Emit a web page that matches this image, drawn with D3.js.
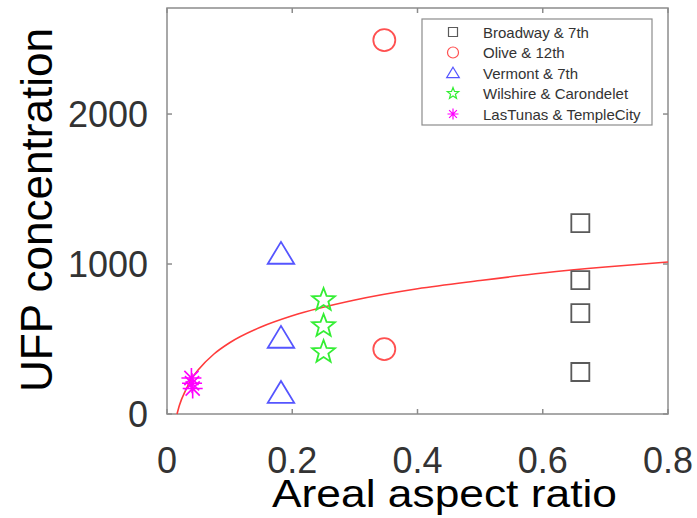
<!DOCTYPE html>
<html>
<head>
<meta charset="utf-8">
<script src="https://cdn.jsdelivr.net/npm/d3@7"></script>
<style>
  body { margin: 0; background: #fff; }
  svg { display: block; font-family: "Liberation Sans", Arial, sans-serif; }
</style>
</head>
<body>
<div id="chart"></div>
<script>
// Data
const broadwayX = [0.66, 0.66, 0.66, 0.66];
const broadwayY = [1273, 893, 673, 280];
const oliveX = [0.347, 0.347];
const oliveY = [2493, 433];
const vermontX = [0.182, 0.182, 0.182];
const vermontY = [1067, 507, 140];
const wilshireX = [0.25, 0.25, 0.25];
const wilshireY = [760, 587, 413];
const lastunasX = [0.039, 0.040, 0.041];
const lastunasY = [240, 205, 170];

// fitted curve, points
const fitX = [0.016, 0.02, 0.03, 0.04, 0.05, 0.075, 0.1, 0.15, 0.2, 0.3, 0.4, 0.5, 0.6, 0.7, 0.8];
const fitY = [0, 60, 160, 240, 295, 400, 475, 580, 655, 760, 835, 890, 940, 980, 1013];

const xTicks = [0, 0.2, 0.4, 0.6, 0.8];
const yTicks = [0, 1000, 2000];

const series = [
  { name: "Broadway & 7th", xs: broadwayX, ys: broadwayY, shape: "square", color: "#5a5a5a" },
  { name: "Olive & 12th", xs: oliveX, ys: oliveY, shape: "circle", color: "#ff5050" },
  { name: "Vermont & 7th", xs: vermontX, ys: vermontY, shape: "triangle", color: "#5555ff" },
  { name: "Wilshire & Carondelet", xs: wilshireX, ys: wilshireY, shape: "star", color: "#33ee33" },
  { name: "LasTunas & TempleCity", xs: lastunasX, ys: lastunasY, shape: "asterisk", color: "#ff00ff" }
];

const W = 697, H = 518;
const box = { left: 167, right: 668, top: 8, bottom: 414 };

const x = d3.scaleLinear().domain([0, 0.8]).range([box.left, box.right]);
const y = d3.scaleLinear().domain([0, 2707]).range([box.bottom, box.top]);

const svg = d3.select("#chart").append("svg")
  .attr("width", W).attr("height", H);

// marker shapes, r = half size
function markerPath(shape, r) {
  const p = d3.path();
  if (shape === "square") {
    p.rect(-r, -r, 2 * r, 2 * r);
  } else if (shape === "circle") {
    p.arc(0, 0, r, 0, 2 * Math.PI);
  } else if (shape === "triangle") {
    p.moveTo(0, -r * 1.05);
    p.lineTo(r * 1.15, r * 0.85);
    p.lineTo(-r * 1.15, r * 0.85);
    p.closePath();
  } else if (shape === "star") {
    const inner = r * 0.42;
    for (let i = 0; i < 10; i++) {
      const a = -Math.PI / 2 + i * Math.PI / 5;
      const rr = i % 2 === 0 ? r : inner;
      if (i === 0) p.moveTo(rr * Math.cos(a), rr * Math.sin(a));
      else p.lineTo(rr * Math.cos(a), rr * Math.sin(a));
    }
    p.closePath();
  } else if (shape === "asterisk") {
    for (let i = 0; i < 4; i++) {
      const a = i * Math.PI / 4;
      p.moveTo(-r * Math.cos(a), -r * Math.sin(a));
      p.lineTo(r * Math.cos(a), r * Math.sin(a));
    }
  }
  return p.toString();
}

const sizes = { square: 9, circle: 11, triangle: 11.5, star: 12, asterisk: 10 };
const legendSizes = { square: 4.5, circle: 5.5, triangle: 5.5, star: 6, asterisk: 5.5 };

// plot box with inward ticks
const axisColor = "#8c8c8c";
svg.append("rect")
  .attr("x", box.left).attr("y", box.top)
  .attr("width", box.right - box.left).attr("height", box.bottom - box.top)
  .attr("fill", "none").attr("stroke", axisColor).attr("stroke-width", 1.5);

xTicks.forEach(t => {
  svg.append("line").attr("x1", x(t)).attr("x2", x(t)).attr("y1", box.bottom).attr("y2", box.bottom - 5)
    .attr("stroke", axisColor).attr("stroke-width", 1.5);
  svg.append("line").attr("x1", x(t)).attr("x2", x(t)).attr("y1", box.top).attr("y2", box.top + 5)
    .attr("stroke", axisColor).attr("stroke-width", 1.5);
  svg.append("text")
    .attr("x", x(t)).attr("y", 473)
    .attr("text-anchor", "middle")
    .style("font-size", "36px").style("fill", "#333")
    .text(t === 0 ? "0" : d3.format(".1f")(t));
});

yTicks.forEach(t => {
  svg.append("line").attr("x1", box.left).attr("x2", box.left + 5).attr("y1", y(t)).attr("y2", y(t))
    .attr("stroke", axisColor).attr("stroke-width", 1.5);
  svg.append("line").attr("x1", box.right).attr("x2", box.right - 5).attr("y1", y(t)).attr("y2", y(t))
    .attr("stroke", axisColor).attr("stroke-width", 1.5);
  svg.append("text")
    .attr("x", 148).attr("y", y(t) + 13)
    .attr("text-anchor", "end")
    .style("font-size", "36px").style("fill", "#333")
    .text(t);
});

// axis titles
svg.append("text")
  .attr("x", 272).attr("y", 507)
  .attr("textLength", 345).attr("lengthAdjust", "spacingAndGlyphs")
  .style("font-size", "38px").style("fill", "#000")
  .text("Areal aspect ratio");

svg.append("text")
  .attr("transform", "translate(52, 392) rotate(-90)")
  .attr("x", 0).attr("y", 0)
  .attr("textLength", 364).attr("lengthAdjust", "spacingAndGlyphs")
  .style("font-size", "44px").style("fill", "#000")
  .text("UFP concentration");

// fitted curve
const fitData = fitX.map((v, i) => ({ x: v, y: fitY[i] }));
svg.append("path")
  .datum(fitData)
  .attr("fill", "none")
  .attr("stroke", "#ff3b3b")
  .attr("stroke-width", 1.6)
  .attr("d", d3.line().x(d => x(d.x)).y(d => y(d.y)).curve(d3.curveMonotoneX));

// markers
series.forEach(s => {
  const pts = s.xs.map((v, i) => ({ x: v, y: s.ys[i] }));
  svg.selectAll(null)
    .data(pts)
    .enter()
    .append("path")
    .attr("transform", d => `translate(${x(d.x)}, ${y(d.y)})`)
    .attr("d", markerPath(s.shape, sizes[s.shape]))
    .attr("fill", "none")
    .attr("stroke", s.color)
    .attr("stroke-width", s.shape === "asterisk" ? 1.6 : 1.8);
});

// legend
const legend = svg.append("g").attr("transform", "translate(422, 19)");
legend.append("rect")
  .attr("width", 230).attr("height", 106)
  .attr("fill", "#fff").attr("stroke", axisColor).attr("stroke-width", 1.2);

const items = legend.selectAll(".legend-item")
  .data(series)
  .enter()
  .append("g")
  .attr("class", "legend-item")
  .attr("transform", (d, i) => `translate(0, ${13 + i * 20.5})`);

items.append("path")
  .attr("transform", "translate(31, 0)")
  .attr("d", d => markerPath(d.shape, legendSizes[d.shape]))
  .attr("fill", "none")
  .attr("stroke", d => d.color)
  .attr("stroke-width", 1.2);

items.append("text")
  .attr("x", 61).attr("y", 5.5)
  .style("font-size", "15px").style("fill", "#333")
  .text(d => d.name);
</script>
</body>
</html>
